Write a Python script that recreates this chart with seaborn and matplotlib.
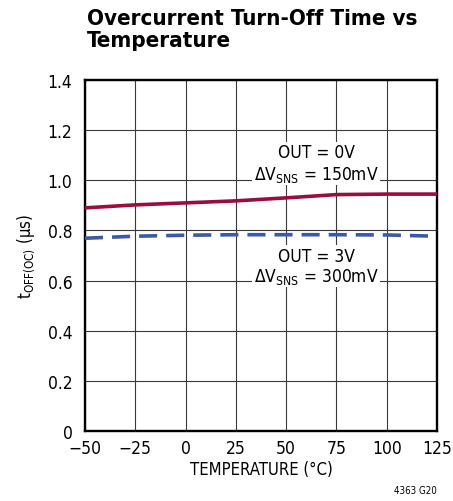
import matplotlib
matplotlib.use("Agg")
import matplotlib.pyplot as plt
import numpy as np
import pandas as pd
import seaborn as sns

# data
temperature = [-50, -25, 0, 25, 50, 75, 100, 125]
t_off_out0 = [0.890, 0.902, 0.910, 0.918, 0.930, 0.943, 0.945, 0.945]
t_off_out3 = [0.769, 0.777, 0.781, 0.783, 0.783, 0.783, 0.782, 0.777]
x_ticks = [-50, -25, 0, 25, 50, 75, 100, 125]
x_tick_labels = ["\u221250", "\u221225", "0", "25", "50", "75", "100", "125"]
y_ticks = [0, 0.2, 0.4, 0.6, 0.8, 1.0, 1.2, 1.4]
y_tick_labels = ["0", "0.2", "0.4", "0.6", "0.8", "1.0", "1.2", "1.4"]

df = pd.DataFrame({
    "temp": temperature * 2,
    "toff": t_off_out0 + t_off_out3,
    "series": ["OUT = 0V"] * len(temperature) + ["OUT = 3V"] * len(temperature),
})

sns.set_style("white")
plt.rcParams["font.family"] = ["DejaVu Sans"]
plt.rcParams["font.stretch"] = "condensed"
plt.rcParams["text.color"] = "black"
plt.rcParams["axes.labelcolor"] = "black"
plt.rcParams["xtick.color"] = "black"
plt.rcParams["ytick.color"] = "black"
plt.rcParams["mathtext.fontset"] = "custom"
plt.rcParams["mathtext.rm"] = "DejaVu Sans:stretch=condensed"

fig = plt.figure(figsize=(4.53, 5.02), dpi=100)
ax = fig.add_axes([0.1876, 0.1394, 0.777, 0.6992])

palette = {"OUT = 0V": "#9b0d3a", "OUT = 3V": "#3d58a8"}
sns.lineplot(data=df, x="temp", y="toff", hue="series", style="series",
             palette=palette, dashes={"OUT = 0V": "", "OUT = 3V": (5, 2.5)},
             linewidth=2.6, legend=False, ax=ax, zorder=3)

ax.set_xlim(-50, 125)
ax.set_ylim(0, 1.4)
ax.set_xticks(x_ticks)
ax.set_xticklabels(x_tick_labels, fontsize=12.5)
ax.set_yticks(y_ticks)
ax.set_yticklabels(y_tick_labels, fontsize=12.5)
ax.tick_params(axis="y", length=0, pad=9)
ax.tick_params(axis="x", length=0, pad=6)
ax.grid(True, color="#3a3a3a", linewidth=0.8)
for s in ax.spines.values():
    s.set_color("black")
    s.set_linewidth(1.7)
    s.set_visible(True)

ax.set_xlabel("TEMPERATURE (\u00b0C)", fontsize=12, labelpad=2)
ax.set_ylabel("t$_{\\mathrm{OFF(OC)}}$ (\u00b5s)", fontsize=12, labelpad=8)

box = dict(facecolor="white", edgecolor="none", pad=1)
ax.text(65, 1.113, "OUT = 0V", ha="center", va="center", fontsize=12.5, bbox=box, zorder=4)
ax.text(65, 1.026, r"$\Delta$V$_{\mathrm{SNS}}$ = 150mV", ha="center", va="center", fontsize=12.5, bbox=box, zorder=4)
ax.text(65, 0.700, "OUT = 3V", ha="center", va="center", fontsize=12.5, bbox=box, zorder=4)
ax.text(65, 0.620, r"$\Delta$V$_{\mathrm{SNS}}$ = 300mV", ha="center", va="center", fontsize=12.5, bbox=box, zorder=4)

fig.text(0.192, 0.982, "Overcurrent Turn-Off Time vs\nTemperature", ha="left", va="top",
         fontsize=16, fontweight="bold", linespacing=1.1)
fig.text(0.965, 0.012, "4363 G20", ha="right", va="bottom", fontsize=7)

plt.savefig("out.png", dpi=100)
plt.close()
